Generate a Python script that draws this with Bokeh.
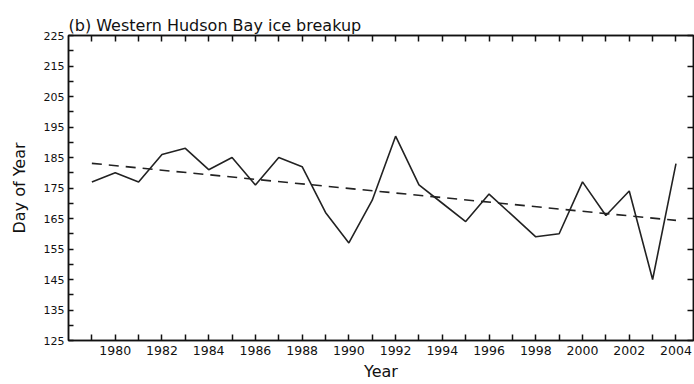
import numpy as np
from bokeh.plotting import figure
from bokeh.models import LinearAxis, FixedTicker, Range1d
from bokeh.embed import file_html
from bokeh.resources import INLINE

# Breakup day of year, western Hudson Bay
years = list(range(1979, 2005))
breakup_day = [177, 180, 177, 186, 188, 181, 185, 176, 185, 182, 167, 157, 171,
               192, 176, 170, 164, 173, 166, 159, 160, 177, 166, 174, 145, 183]

y_ticks = list(range(125, 226, 10))
y_minor = list(range(130, 221, 10))
x_label_years = list(range(1980, 2005, 2))
x_minor_years = list(range(1979, 2004, 2))

FONT = "DejaVu Sans"
INK = "#111111"

p = figure(width=694, height=384, output_backend="svg", toolbar_location=None,
           x_range=Range1d(1978, 2004.75), y_range=Range1d(125, 225),
           x_axis_label="Year", y_axis_label="Day of Year",
           min_border_left=68, min_border_right=1, min_border_top=35,
           min_border_bottom=44)

p.title.text = "(b) Western Hudson Bay ice breakup"
p.title.text_font = FONT
p.title.text_font_size = "16px"
p.title.text_font_style = "normal"
p.title.text_color = INK
p.title.align = "left"
p.title.standoff = 2

p.grid.visible = False
p.background_fill_color = "white"
p.border_fill_color = "white"
p.outline_line_color = INK
p.outline_line_width = 1.5

# bottom axis: labelled even years, ticks every year, pointing inward
xa = p.xaxis[0]
xa.ticker = FixedTicker(ticks=x_label_years, minor_ticks=x_minor_years)
for ax in (xa,):
    ax.major_tick_in = 6
    ax.major_tick_out = 0
    ax.minor_tick_in = 6
    ax.minor_tick_out = 0

ya = p.yaxis[0]
ya.ticker = FixedTicker(ticks=y_ticks, minor_ticks=y_minor)
ya.major_tick_in = 5
ya.major_tick_out = 0
ya.minor_tick_in = 5
ya.minor_tick_out = 0

for ax in (xa, ya):
    ax.axis_line_color = INK
    ax.axis_line_width = 1.5
    ax.major_tick_line_color = INK
    ax.major_tick_line_width = 1.5
    ax.minor_tick_line_color = INK
    ax.minor_tick_line_width = 1.5
    ax.major_label_text_font = FONT
    ax.major_label_text_color = INK
    ax.axis_label_text_font = FONT
    ax.axis_label_text_font_style = "normal"
    ax.axis_label_text_color = INK
    ax.axis_label_text_font_size = "16px"

xa.major_label_text_font_size = "12.5px"
xa.major_label_standoff = 5
xa.axis_label_standoff = 4
ya.major_label_text_font_size = "11px"
ya.major_label_standoff = 4
ya.axis_label_standoff = 12

# mirrored ticks on the top and right edges, without labels
top = LinearAxis(ticker=FixedTicker(ticks=years))
top.major_label_overrides = {y: "" for y in years}
right = LinearAxis(ticker=FixedTicker(ticks=y_ticks))
right.major_label_overrides = {v: "" for v in y_ticks}
for ax in (top, right):
    ax.major_tick_in = 6
    ax.major_tick_out = 0
    ax.minor_tick_line_color = None
    ax.axis_line_color = INK
    ax.axis_line_width = 1.5
    ax.major_tick_line_color = INK
    ax.major_tick_line_width = 1.5
    ax.major_label_standoff = 0
    ax.major_label_text_font_size = "1px"
p.add_layout(top, "above")
p.add_layout(right, "right")

# observed series and its least-squares trend
p.line(years, breakup_day, line_color="#222222", line_width=1.6)
slope, intercept = np.polyfit(years, breakup_day, 1)
trend = [slope * yr + intercept for yr in years]
p.line([years[0], years[-1]], [trend[0], trend[-1]], line_color="#222222",
       line_width=1.6, line_dash="10 7")

open("out.html", "w").write(file_html(p, INLINE))
